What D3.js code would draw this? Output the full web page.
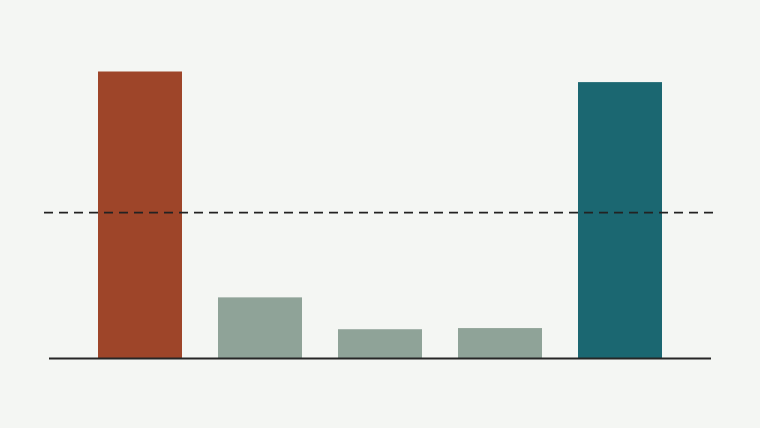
<!DOCTYPE html>
<html>
<head>
<meta charset="utf-8">
<script src="https://cdn.jsdelivr.net/npm/d3@7"></script>
<style>
  html, body { margin: 0; padding: 0; background: #f4f6f3; }
  svg { display: block; }
</style>
</head>
<body>
<script>
const categories = ['A', 'B', 'C', 'D', 'E'];
const values = [100, 21.3, 10.2, 10.6, 96.3];
const colors = ['#9e4529', '#8fa398', '#8fa398', '#8fa398', '#1b6771'];
const reference = [50.8];

const width = 760;
const height = 428;

let svg = d3.select('body')
    .append('svg')
    .attr('width', width)
    .attr('height', height);

svg.append('rect')
    .attr('width', width)
    .attr('height', height)
    .attr('fill', '#f4f6f3');

let x = d3.scaleBand()
    .domain(categories)
    .range([50, 710])
    .paddingInner(0.3)
    .paddingOuter(0.4);

let y = d3.scaleLinear()
    .domain([0, 100])
    .range([358.5, 71.5]);

svg.selectAll('rect.bar')
    .data(values)
    .enter()
    .append('rect')
    .attr('class', 'bar')
    .attr('x', (d, i) => x(categories[i]))
    .attr('y', d => y(d))
    .attr('width', x.bandwidth())
    .attr('height', d => y(0) - y(d))
    .attr('fill', (d, i) => colors[i]);

// baseline
svg.append('line')
    .attr('x1', 49)
    .attr('x2', 711)
    .attr('y1', y(0))
    .attr('y2', y(0))
    .attr('stroke', '#262626')
    .attr('stroke-width', 2);

// dashed reference line
svg.selectAll('line.ref')
    .data(reference)
    .enter()
    .append('line')
    .attr('class', 'ref')
    .attr('x1', 44)
    .attr('x2', 716)
    .attr('y1', d => y(d))
    .attr('y2', d => y(d))
    .attr('stroke', '#222')
    .attr('stroke-width', 1.8)
    .attr('stroke-dasharray', '9,6');
</script>
</body>
</html>
